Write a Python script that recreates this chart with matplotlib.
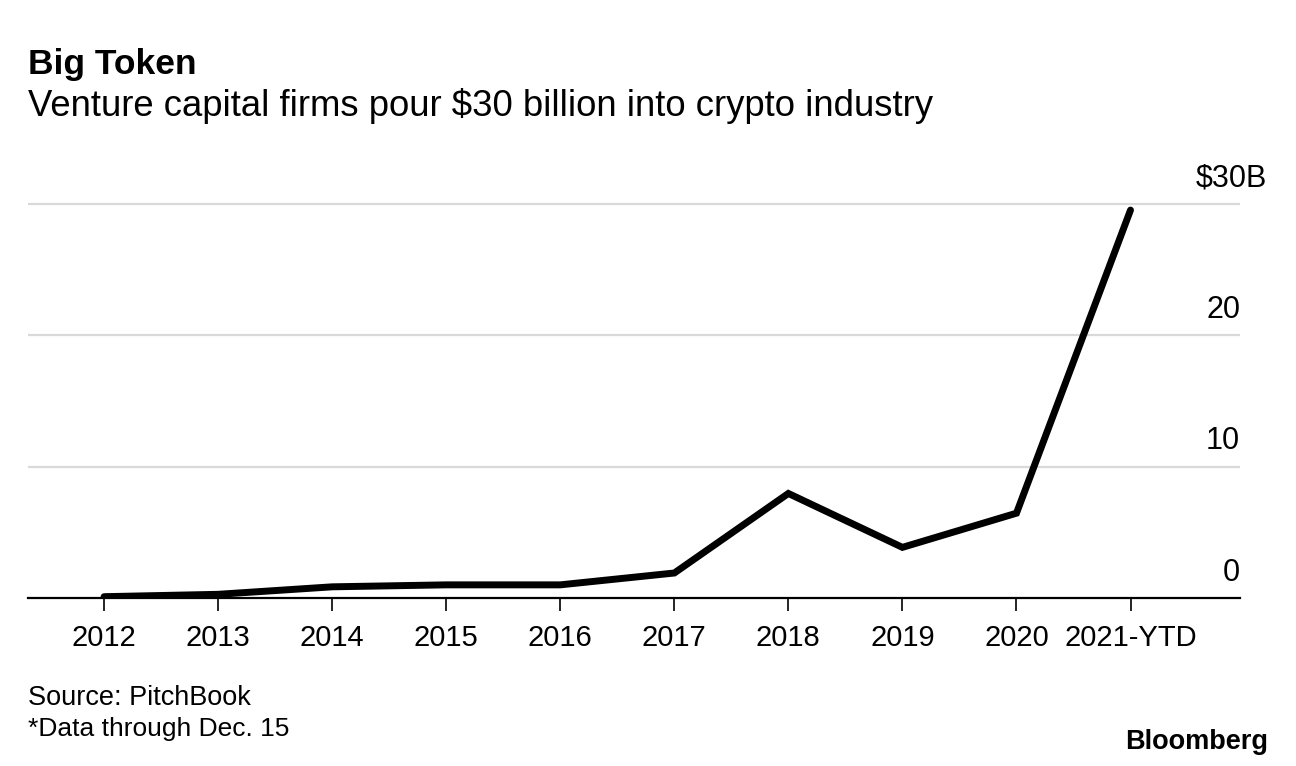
import matplotlib.pyplot as plt
import matplotlib.transforms as mtransforms
import numpy as np

plt.rcParams['font.family'] = ['Liberation Sans', 'DejaVu Sans']

# Dados (bilhões de US$)
anos = ['2012', '2013', '2014', '2015', '2016', '2017', '2018', '2019', '2020', '2021-YTD']
valores = [0.1, 0.28, 0.85, 1.0, 1.0, 1.9, 7.95, 3.85, 6.45, 29.5]
y_ticks = [0, 10, 20, 30]
y_labels = ['0', '10', '20', '$30B']

fig = plt.figure(figsize=(12.96, 7.66), dpi=100)
W, H = 1296, 766

# eixo: x de 28 a 1240 px, y=0 em 598 px, 10 unidades = 131.5 px
y0_px, px_per = 598, 13.15
ytop = 31
ax_top_px = y0_px - ytop * px_per
ax = fig.add_axes([28 / W, (H - y0_px) / H, (1240 - 28) / W, (y0_px - ax_top_px) / H])

x = np.arange(len(anos))
ax.plot(x, valores, color='black', linewidth=5.0, solid_joinstyle='miter',
        solid_capstyle='round', zorder=3)

ax.set_xlim(-0.667, 9.96)
ax.set_ylim(0, ytop)

# grades horizontais
for v in y_ticks[1:]:
    ax.axhline(v, color='#d9d9d9', linewidth=1.6, zorder=1)
ax.axhline(0, color='black', linewidth=1.6, zorder=2, clip_on=False)

for s in ax.spines.values():
    s.set_visible(False)

ax.set_yticks([])
ax.set_xticks(x)
ax.set_xticklabels(anos, fontsize=21)
ax.tick_params(axis='x', length=9, width=1.2, color='black', pad=10, direction='out')

# rótulos do eixo y acima das linhas (o do topo leva o "B" para fora da borda)
trans = mtransforms.blended_transform_factory(ax.transAxes, ax.transData)
off = mtransforms.offset_copy(trans, fig=fig, y=12.5, units='points')
for v, lab in zip(y_ticks, y_labels):
    xpos = 1.0223 if lab.endswith('B') else 1.0
    ax.text(xpos, v, lab, transform=off, ha='right', va='baseline', fontsize=22)

# títulos
fig.text(28 / W, 1 - 74 / H, 'Big Token', fontsize=25.5, fontweight='bold', va='baseline')
fig.text(28 / W, 1 - 116 / H, 'Venture capital firms pour $30 billion into crypto industry',
         fontsize=26.3, va='baseline')

# rodapé
fig.text(28 / W, 1 - 705 / H, 'Source: PitchBook', fontsize=19.5, va='baseline')
fig.text(28 / W, 1 - 736 / H, '*Data through Dec. 15', fontsize=19, va='baseline')
fig.text(1268 / W, 1 - 749 / H, 'Bloomberg', fontsize=19.5, fontweight='bold',
         ha='right', va='baseline')

plt.savefig('out.png', dpi=100)
